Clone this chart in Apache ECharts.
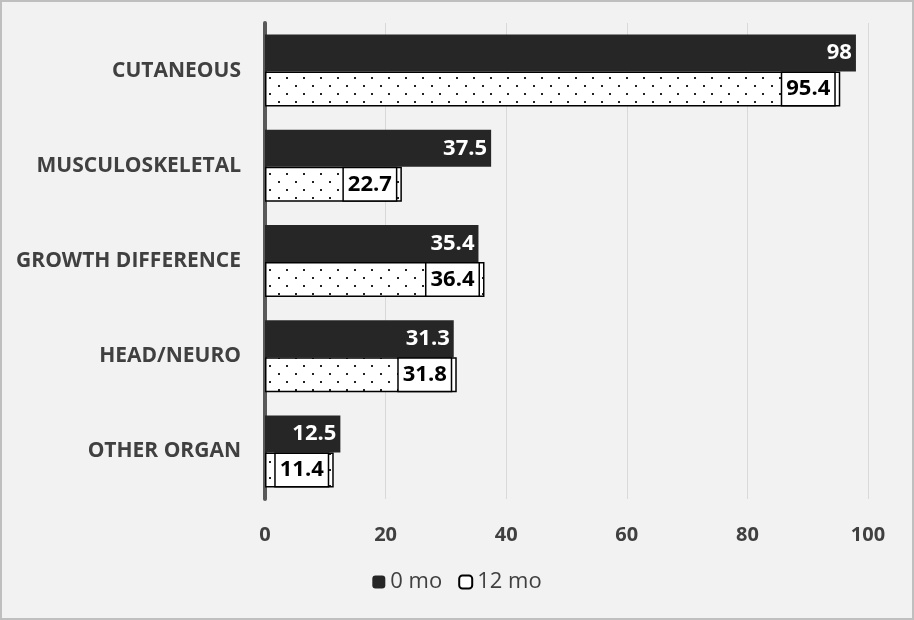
<!DOCTYPE html>
<html><head><meta charset="utf-8">
<script src="https://cdn.jsdelivr.net/npm/echarts@6/dist/echarts.min.js"></script>
<style>
html,body{margin:0;padding:0;background:#f2f2f2;}
#c{width:910px;height:616px;border:2px solid #bfbfbf;background:#f2f2f2;}
</style></head><body>
<div id="c"></div>
<script>
const categories = ['CUTANEOUS','MUSCULOSKELETAL','GROWTH DIFFERENCE','HEAD/NEURO','OTHER ORGAN'];
const seriesNames = ['0 mo','12 mo'];
const values0 = [98, 37.5, 35.4, 31.3, 12.5];
const values12 = [95.4, 22.7, 36.4, 31.8, 11.4];
const xTicks = [0, 20, 40, 60, 80, 100];

function dotPattern(){
  const cv = document.createElement('canvas');
  cv.width = 17; cv.height = 16;
  const ctx = cv.getContext('2d');
  ctx.fillStyle = '#ffffff';
  ctx.fillRect(0,0,17,16);
  ctx.fillStyle = '#222';
  ctx.fillRect(4,3,2,2);
  ctx.fillRect(12,11,2,2);
  return cv;
}
const font = 'Open Sans, Lato, sans-serif';
const chart = echarts.init(document.getElementById('c'));
chart.setOption({
  backgroundColor:'#f2f2f2',
  animation:false,
  grid:{left:263,right:44,top:21,bottom:119,containLabel:false},
  legend:{
    bottom:20, left:'center', itemWidth:13, itemHeight:13, itemGap:16,
    textStyle:{fontFamily:font,fontSize:22,color:'#404040'},
    data:[
      {name:'0 mo', itemStyle:{color:'#262626',borderWidth:0}},
      {name:'12 mo', itemStyle:{color:'#ffffff',borderColor:'#000',borderWidth:2}}
    ]
  },
  xAxis:{
    type:'value', min:0, max:100, interval:20,
    axisLine:{show:false}, axisTick:{show:false},
    splitLine:{lineStyle:{color:'#d9d9d9',width:1}},
    axisLabel:{fontFamily:font,fontWeight:'bold',fontSize:20,color:'#404040',margin:26,
      formatter:v=>xTicks.includes(v)?String(v):''}
  },
  yAxis:{
    type:'category', data:categories, inverse:true,
    axisLine:{show:true,lineStyle:{color:'#595959',width:4}},
    axisTick:{show:false},
    axisLabel:{fontFamily:font,fontWeight:'bold',fontSize:21,color:'#404040',margin:24}
  },
  series:[
    {name:seriesNames[0], type:'bar', data:values0, barWidth:37, barGap:'0%',
     itemStyle:{color:'#262626'},
     label:{show:true,position:'insideRight',offset:[1,0],color:'#fff',fontFamily:font,fontWeight:'bold',fontSize:22}},
    {name:seriesNames[1], type:'bar', data:values12, barWidth:35,
     itemStyle:{color:{image:dotPattern(),repeat:'repeat'},borderColor:'#000',borderWidth:1.5},
     label:{show:true,position:'insideRight',offset:[-1,0],color:'#000',fontFamily:font,fontWeight:'bold',fontSize:22,
       backgroundColor:'#fff',borderColor:'#000',borderWidth:1.5,padding:[3,4,1,4],lineHeight:28}}
  ]
});
</script>
</body></html>
